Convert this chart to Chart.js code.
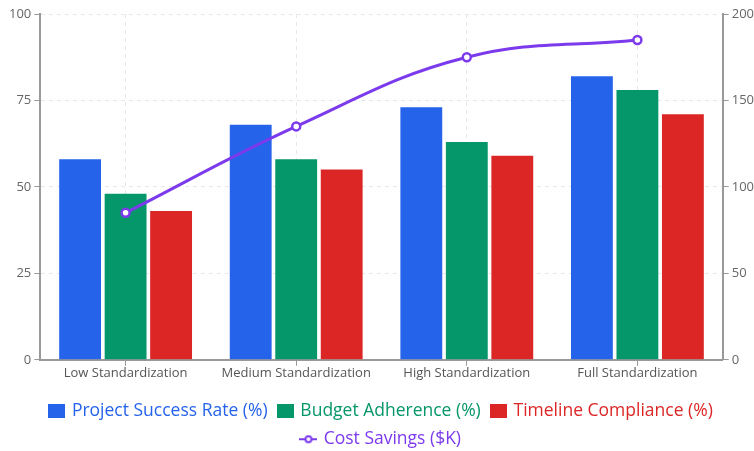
<!DOCTYPE html>
<html>
<head>
<meta charset="utf-8">
<script src="https://cdn.jsdelivr.net/npm/chart.js@4.4.0/dist/chart.umd.min.js"></script>
<style>
  html, body { margin: 0; padding: 0; background: #fff; }
  #wrap { width: 754px; height: 451px; }
</style>
</head>
<body>
<div id="wrap"><canvas id="chart"></canvas></div>
<script>
// chart data
const categories = ['Low Standardization', 'Medium Standardization', 'High Standardization', 'Full Standardization'];
const successRate = [58, 68, 73, 82];
const budgetAdherence = [48, 58, 63, 78];
const timelineCompliance = [43, 55, 59, 71];
const costSavings = [85, 135, 175, 185];
const leftTicks = [0, 25, 50, 75, 100];
const rightTicks = [0, 50, 100, 150, 200];

const BLUE = '#2563eb';
const GREEN = '#059669';
const RED = '#dc2626';
const PURPLE = '#7c3aed';

// legend icons drawn on small canvases
function boxIcon(color) {
    const c = document.createElement('canvas');
    c.width = 17; c.height = 14;
    const g = c.getContext('2d');
    g.fillStyle = color;
    g.fillRect(0, 0, 17, 14);
    return c;
}

function lineIcon(color) {
    const c = document.createElement('canvas');
    c.width = 18; c.height = 10;
    const g = c.getContext('2d');
    g.strokeStyle = color;
    g.lineWidth = 2;
    g.beginPath();
    g.moveTo(0, 5); g.lineTo(18, 5);
    g.stroke();
    g.fillStyle = '#fff';
    g.beginPath();
    g.arc(9, 5, 3, 0, Math.PI * 2);
    g.fill();
    g.stroke();
    return c;
}

const icons = [boxIcon(BLUE), boxIcon(GREEN), boxIcon(RED), lineIcon(PURPLE)];
const textColors = [BLUE, GREEN, RED, PURPLE];

new Chart(document.getElementById('chart'), {
    type: 'bar',
    data: {
        labels: categories,
        datasets: [
            { label: 'Project Success Rate (%)', data: successRate, backgroundColor: BLUE, yAxisID: 'y', order: 1 },
            { label: 'Budget Adherence (%)', data: budgetAdherence, backgroundColor: GREEN, yAxisID: 'y', order: 1 },
            { label: 'Timeline Compliance (%)', data: timelineCompliance, backgroundColor: RED, yAxisID: 'y', order: 1 },
            {
                type: 'line',
                label: 'Cost Savings ($K)',
                data: costSavings,
                borderColor: PURPLE,
                backgroundColor: '#fff',
                borderWidth: 3,
                pointRadius: 4,
                pointBorderWidth: 2.5,
                pointBackgroundColor: '#fff',
                pointBorderColor: PURPLE,
                tension: 0.4,
                yAxisID: 'y1',
                order: -1
            }
        ]
    },
    options: {
        responsive: true,
        maintainAspectRatio: false,
        animation: false,
        layout: { padding: { left: 6, right: -3, top: 14, bottom: -7 } },
        datasets: { bar: { categoryPercentage: 0.8, barPercentage: 0.92 } },
        plugins: {
            tooltip: { enabled: false },
            legend: {
                position: 'bottom',
                // empty title only adds a little space above the rows
                title: { display: true, text: '', font: { size: 8 }, padding: 0 },
                labels: {
                    usePointStyle: true,
                    boxWidth: 13,
                    padding: 11,
                    font: { family: 'Open Sans', size: 17.5 },
                    sort: (a, b) => a.datasetIndex - b.datasetIndex,
                    generateLabels: (chart) => {
                        const items = Chart.defaults.plugins.legend.labels.generateLabels(chart);
                        items.forEach(it => {
                            it.pointStyle = icons[it.datasetIndex];
                            it.fontColor = textColors[it.datasetIndex];
                        });
                        return items;
                    }
                }
            }
        },
        scales: {
            x: {
                grid: {
                    offset: false,
                    color: '#e8e8e8',
                    tickColor: '#999',
                    tickLength: 6,
                    tickBorderDash: []
                },
                border: { color: '#999', width: 2, dash: [4, 4] },
                ticks: { color: '#555', font: { family: 'Open Sans', size: 13 }, padding: 0 }
            },
            y: {
                position: 'left',
                min: 0,
                max: 100,
                afterBuildTicks: (axis) => { axis.ticks = leftTicks.map(v => ({ value: v })); },
                grid: { color: '#e8e8e8', tickColor: '#999', tickLength: 6, tickBorderDash: [] },
                border: { color: '#999', width: 2, dash: [4, 4] },
                ticks: { color: '#666', font: { family: 'Open Sans', size: 13 }, padding: 3 }
            },
            y1: {
                position: 'right',
                min: 0,
                max: 200,
                afterBuildTicks: (axis) => { axis.ticks = rightTicks.map(v => ({ value: v })); },
                grid: { drawOnChartArea: false, tickColor: '#999', tickLength: 6 },
                border: { color: '#999', width: 2 },
                ticks: { color: '#666', font: { family: 'Open Sans', size: 13 }, padding: 3 }
            }
        }
    }
});
</script>
</body>
</html>
